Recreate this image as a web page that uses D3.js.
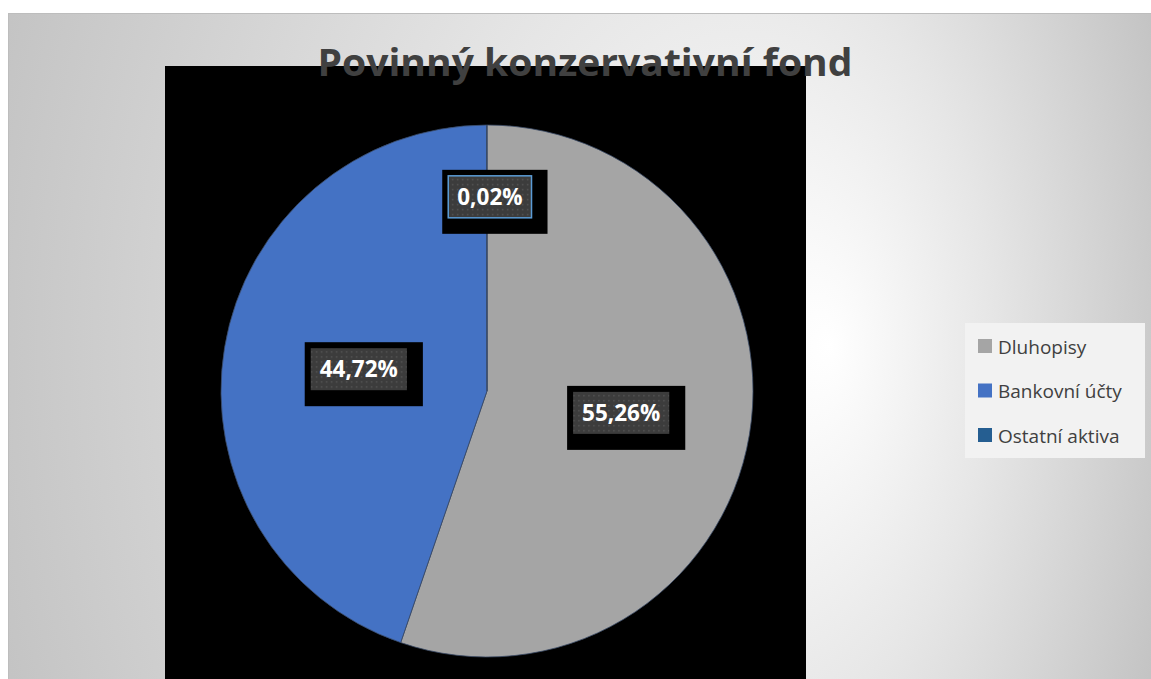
<!DOCTYPE html>
<html>
<head>
<meta charset="utf-8">
<script src="https://cdn.jsdelivr.net/npm/d3@7"></script>
<style>
  html, body { margin: 0; padding: 0; background: #fff; }
  svg { display: block; }
</style>
</head>
<body>
<svg id="chart" width="1151" height="679"></svg>
<script>
// data
const categories = ["Dluhopisy", "Bankovní účty", "Ostatní aktiva"];
const values = [55.26, 44.72, 0.02];
const labels = ["55,26%", "44,72%", "0,02%"];
const colors = ["#a5a5a5", "#4472c4", "#255e91"];
const title = "Povinný konzervativní fond";

const svg = d3.select("#chart");
const W = 1151, H = 679;

// background gradient like the office chart area
const defs = svg.append("defs");
const grad = defs.append("radialGradient")
    .attr("id", "bg")
    .attr("gradientUnits", "userSpaceOnUse")
    .attr("cx", 580).attr("cy", 346).attr("r", 610)
    .attr("fx", 830).attr("fy", 346)
    .attr("gradientTransform", "translate(0,346) scale(1,1.5) translate(0,-346)");
grad.append("stop").attr("offset", "0%").attr("stop-color", "#ffffff");
grad.append("stop").attr("offset", "45%").attr("stop-color", "#e6e6e6");
grad.append("stop").attr("offset", "100%").attr("stop-color", "#c4c4c4");

// dotted fill for the data label boxes
const pat = defs.append("pattern")
    .attr("id", "dots")
    .attr("width", 5).attr("height", 5)
    .attr("patternUnits", "userSpaceOnUse");
pat.append("rect").attr("width", 5).attr("height", 5).attr("fill", "#3c3c3c");
pat.append("rect").attr("x", 2).attr("y", 2).attr("width", 1.5).attr("height", 1.5).attr("fill", "#535353");

svg.append("rect")
    .attr("x", 8.5).attr("y", 13.5)
    .attr("width", W - 8).attr("height", H - 13)
    .attr("fill", "url(#bg)")
    .attr("stroke", "#bdbdbd");

// plot area (black)
svg.append("rect")
    .attr("x", 165).attr("y", 66)
    .attr("width", 641).attr("height", H - 66)
    .attr("fill", "#000");

// title
svg.append("text")
    .attr("x", 585).attr("y", 76)
    .attr("text-anchor", "middle")
    .attr("textLength", 535)
    .attr("lengthAdjust", "spacingAndGlyphs")
    .style("font-family", "'Open Sans', sans-serif")
    .style("font-weight", "bold")
    .style("font-size", "38px")
    .attr("fill", "#404040")
    .text(title);

// pie
const cx = 487, cy = 391, radius = 266;
const pie = d3.pie().sort(null).value(d => d);
const arcs = pie(values);
const arc = d3.arc().innerRadius(0).outerRadius(radius);
const labelArc = d3.arc().innerRadius(radius * 0.5).outerRadius(radius * 0.5);
const smallArc = d3.arc().innerRadius(radius * 0.73).outerRadius(radius * 0.73);

const g = svg.append("g").attr("transform", `translate(${cx},${cy})`);

g.selectAll("path")
    .data(arcs)
    .enter()
    .append("path")
    .attr("d", arc)
    .attr("fill", (d, i) => colors[i])
    .attr("stroke", "#3a4a66")
    .attr("stroke-width", 0.8);

// data labels
const lab = g.selectAll("g.lab")
    .data(arcs)
    .enter()
    .append("g")
    .attr("class", "lab")
    .attr("transform", (d, i) => {
        const p = (d.endAngle - d.startAngle) < 0.05 ? smallArc.centroid(d) : labelArc.centroid(d);
        return `translate(${p[0] + 3},${p[1]})`;
    });

lab.each(function (d, i) {
    const el = d3.select(this);
    const t = el.append("text")
        .attr("text-anchor", "middle")
        .attr("y", 8)
        .style("font-family", "'Open Sans', sans-serif")
        .style("font-weight", "bold")
        .style("font-size", "22.5px")
        .attr("fill", "#fff")
        .text(labels[i]);
    const bb = t.node().getBBox();
    const padX = 9;
    const x0 = bb.x - padX, x1 = bb.x + bb.width + padX;
    const y0 = -21, y1 = 21;
    el.insert("rect", "text")
        .attr("x", x0 - 6).attr("y", y0 - 6)
        .attr("width", x1 - x0 + 22).attr("height", y1 - y0 + 22)
        .attr("fill", "#000");
    el.insert("rect", "text")
        .attr("x", x0).attr("y", y0)
        .attr("width", x1 - x0).attr("height", y1 - y0)
        .attr("fill", "url(#dots)")
        .attr("stroke", i === 2 ? "#5b9bd5" : "none")
        .attr("stroke-width", 1.5);
});

// legend
const legend = svg.append("g").attr("transform", "translate(965,323)");
legend.append("rect")
    .attr("width", 180).attr("height", 135)
    .attr("fill", "#f2f2f2");

const ly = d3.scalePoint().domain(categories).range([24, 113]);
const item = legend.selectAll("g.item")
    .data(categories)
    .enter()
    .append("g")
    .attr("class", "item")
    .attr("transform", d => `translate(13,${ly(d)})`);

item.append("rect")
    .attr("x", 0).attr("y", -8)
    .attr("width", 14).attr("height", 14)
    .attr("fill", (d, i) => colors[i]);

item.append("text")
    .attr("x", 20).attr("y", 6.5)
    .style("font-family", "'Open Sans', sans-serif")
    .style("font-size", "19px")
    .attr("fill", "#404040")
    .text(d => d);
</script>
</body>
</html>
